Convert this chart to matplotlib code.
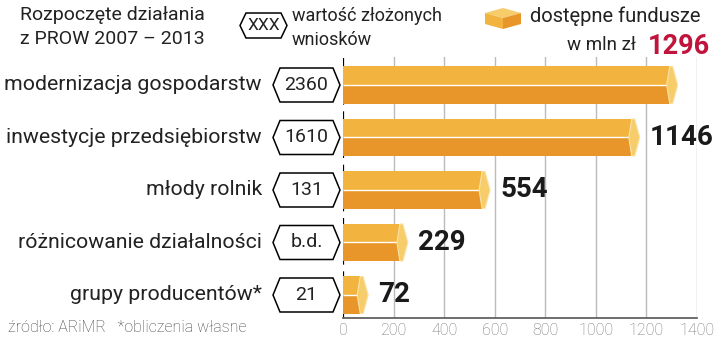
import matplotlib.pyplot as plt
from matplotlib.patches import Polygon
import numpy as np

plt.rcParams['font.family'] = ['Roboto', 'DejaVu Sans']

categories = ['modernizacja gospodarstw', 'inwestycje przedsiębiorstw',
              'młody rolnik', 'różnicowanie działalności', 'grupy producentów*']
funds = [1296, 1146, 554, 229, 72]
applications = ['2360', '1610', '131', 'b.d.', '21']
ticks = [0, 200, 400, 600, 800, 1000, 1200, 1400]

W, H = 720, 341
LIGHT = '#F2B43E'
DARK = '#E8962A'
CAP = '#F6CD6A'
RED = '#C0143C'

fig = plt.figure(figsize=(W / 100, H / 100), dpi=100)

# main axes placed in pixel terms
x0, x1, ytop, ybot = 343, 697, 57, 318
ax = fig.add_axes([x0 / W, 1 - ybot / H, (x1 - x0) / W, (ybot - ytop) / H])
ax.set_xlim(0, 1400)
row_px = 52.5
ax.set_ylim((ybot - 85) / row_px, (ytop - 85) / row_px)
ax.axis('off')

px = 1400 / (x1 - x0)      # data units per pixel (x)
py = 1 / row_px            # data units per pixel (y)

# grid
for t in ticks[1:]:
    ax.axvline(t, color='#BBBBBB', lw=1, zorder=0)
ax.axvline(0, color='black', lw=1.6, linestyle=(0, (5, 3)), zorder=0)
ax.plot([0, 1400], [ax.get_ylim()[0]] * 2, color='#555555', lw=1.2, clip_on=False)
for t in ticks:
    ax.text(t, ax.get_ylim()[0] + 13 * py, str(t), ha='center', va='center',
            fontsize=11.5, color='#777777', fontweight='light')

y = np.arange(len(categories))
h = 0.705
ax.barh(y - h / 4, funds, height=h / 2, color=LIGHT, zorder=2)
ax.barh(y + h / 4, funds, height=h / 2, color=DARK, zorder=2)
for yi, v in zip(y, funds):
    ax.plot([0, v], [yi, yi], color='white', lw=1.0, zorder=3, solid_capstyle='butt')
    hh = h / 2
    cap = [(v - 1 * px, yi - hh), (v + 2 * px, yi - hh), (v + 7 * px, yi),
           (v + 2 * px, yi + hh), (v - 1 * px, yi + hh), (v - 4 * px, yi)]
    ax.add_patch(Polygon(cap, closed=True, facecolor=CAP, edgecolor='#FBE3A8',
                         lw=0.8, zorder=4))

# hexagon labels with application counts
for yi, lab in zip(y, applications):
    l, r, ind, hy = -70 * px, -3 * px, 7 * px, 17 * py
    hexa = [(l, yi), (l + ind, yi - hy), (r - ind, yi - hy), (r, yi),
            (r - ind, yi + hy), (l + ind, yi + hy)]
    ax.add_patch(Polygon(hexa, closed=True, facecolor='white', edgecolor='black',
                         lw=1.1, zorder=5, clip_on=False))
    ax.text((l + r) / 2, yi, lab, ha='center', va='center', fontsize=14,
            color='#222222', zorder=6, clip_on=False)

# category labels
for yi, cat in zip(y, categories):
    ax.text(-81 * px, yi, cat, ha='right', va='center', fontsize=15.3,
            color='#222222', clip_on=False)

# value labels (first one is in the header)
for yi, v in list(zip(y, funds))[1:]:
    ax.text(v + 17 * px, yi, str(v), ha='left', va='center', fontsize=20,
            fontweight='bold', color='#1A1A1A', clip_on=False)


# header & footer in pixel coordinates
def ftext(xp, yp, s, **kw):
    fig.text(xp / W, 1 - yp / H, s, **kw)


ftext(20, 15, 'Rozpoczęte działania', fontsize=14, va='center', color='#222222')
ftext(20, 39, 'z PROW 2007 – 2013', fontsize=14, va='center', color='#222222')

ov = fig.add_axes([0, 0, 1, 1], zorder=-1)
ov.set_xlim(0, W)
ov.set_ylim(H, 0)
ov.axis('off')
lx0, lx1, ly0, ly1 = 240, 287, 13, 38
lm = (ly0 + ly1) / 2
ov.add_patch(Polygon([(lx0, lm), (lx0 + 6, ly0), (lx1 - 6, ly0), (lx1, lm),
                      (lx1 - 6, ly1), (lx0 + 6, ly1)], closed=True,
                     facecolor='white', edgecolor='black', lw=1.1))
ov.text((lx0 + lx1) / 2, lm, 'XXX', ha='center', va='center', fontsize=12.5,
        color='#222222')
ftext(292, 16, 'wartość złożonych', fontsize=13, va='center', color='#222222')
ftext(292, 40, 'wniosków', fontsize=13, va='center', color='#222222')

# box icon
ov.add_patch(Polygon([(485, 13), (503, 8), (521, 13), (503, 18)], closed=True,
                     facecolor=CAP, edgecolor='none'))
ov.add_patch(Polygon([(485, 13), (503, 18), (503, 29), (485, 24)], closed=True,
                     facecolor=LIGHT, edgecolor='none'))
ov.add_patch(Polygon([(503, 18), (521, 13), (521, 24), (503, 29)], closed=True,
                     facecolor=DARK, edgecolor='none'))
ftext(530, 16, 'dostępne fundusze', fontsize=14.5, va='center', color='#222222')
ftext(636, 45, 'w mln zł', fontsize=13.5, va='center', ha='right', color='#222222')
ftext(648, 46, str(funds[0]), fontsize=19.5, fontweight='bold', va='center',
      color=RED)

ftext(8, 327, 'źródło: ARiMR   *obliczenia własne', fontsize=11.5, va='center',
      color='#444444', fontweight='light')

fig.savefig('out.png', dpi=100)
